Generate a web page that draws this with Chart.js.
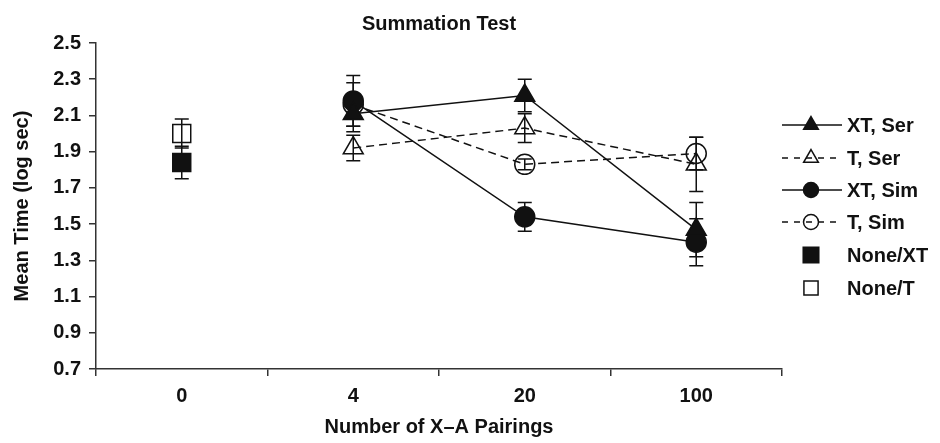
<!DOCTYPE html>
<html>
<head>
<meta charset="utf-8">
<script src="https://cdn.jsdelivr.net/npm/chart.js@4.4.1/dist/chart.umd.min.js"></script>
<style>
  body { margin: 0; background: #fff; }
</style>
</head>
<body>
<canvas id="myChart" width="940" height="443"></canvas>
<script>
var labels = ['0', '4', '20', '100']
var yTicks = [0.7, 0.9, 1.1, 1.3, 1.5, 1.7, 1.9, 2.1, 2.3, 2.5]

var xt_ser = [null, 2.11, 2.21, 1.47]
var xt_ser_err = [null, 0.10, 0.09, 0.15]
var t_ser = [null, 1.92, 2.03, 1.83]
var t_ser_err = [null, 0.07, 0.08, 0.15]
var xt_sim = [null, 2.18, 1.54, 1.40]
var xt_sim_err = [null, 0.14, 0.08, 0.13]
var t_sim = [null, 2.16, 1.83, 1.89]
var t_sim_err = [null, 0.12, 0.03, 0.09]
var none_xt = [1.84, null, null, null]
var none_xt_err = [0.09, null, null, null]
var none_t = [2.00, null, null, null]
var none_t_err = [0.08, null, null, null]

var ink = '#111'
var fontBold = { family: '"Liberation Sans", Arial, sans-serif', size: 20, weight: 'bold' }

// vertical error bars with caps
var errorBars = {
  id: 'errorBars',
  beforeDatasetsDraw: function (chart) {
    var ctx = chart.ctx
    var y = chart.scales.y
    ctx.save()
    ctx.strokeStyle = ink
    ctx.lineWidth = 1.5
    chart.data.datasets.forEach(function (ds, i) {
      var meta = chart.getDatasetMeta(i)
      ds.errors.forEach(function (e, j) {
        if (e == null || ds.data[j] == null) return
        var px = meta.data[j].x
        var top = y.getPixelForValue(ds.data[j] + e)
        var bot = y.getPixelForValue(ds.data[j] - e)
        ctx.beginPath()
        ctx.moveTo(px, top); ctx.lineTo(px, bot)
        ctx.moveTo(px - 7, top); ctx.lineTo(px + 7, top)
        ctx.moveTo(px - 7, bot); ctx.lineTo(px + 7, bot)
        ctx.stroke()
      })
    })
    ctx.restore()
  }
}

// title over the plot area and legend at the right
var extras = {
  id: 'extras',
  afterDraw: function (chart) {
    var ctx = chart.ctx
    var area = chart.chartArea
    ctx.save()
    ctx.fillStyle = ink
    ctx.font = 'bold 20px "Liberation Sans", Arial, sans-serif'
    ctx.textAlign = 'center'
    ctx.textBaseline = 'middle'
    ctx.fillText('Summation Test', (area.left + area.right) / 2, 24)

    var rowY = [125, 158, 190, 222, 255, 288]
    chart.data.datasets.forEach(function (ds, i) {
      var cy = rowY[i]
      ctx.strokeStyle = ink
      ctx.lineWidth = 1.5
      if (ds.showLine !== false) {
        ctx.setLineDash(ds.borderDash && ds.borderDash.length ? [6, 6] : [])
        ctx.beginPath()
        ctx.moveTo(782, cy); ctx.lineTo(842, cy)
        ctx.stroke()
        ctx.setLineDash([])
      }
      ctx.fillStyle = ds.pointBackgroundColor
      Chart.helpers.drawPoint(ctx, {
        pointStyle: ds.pointStyle,
        radius: ds.legendRadius,
        borderWidth: 1.5,
        rotation: 0
      }, 811, cy)
      ctx.fillStyle = ink
      ctx.textAlign = 'left'
      ctx.fillText(ds.label, 847, cy + 1)
    })
    ctx.restore()
  }
}

function series(label, data, errors, style, filled, dashed, radius, legendRadius, showLine) {
  return {
    label: label,
    data: data,
    errors: errors,
    borderColor: ink,
    borderWidth: 1.5,
    borderDash: dashed ? [8, 5] : [],
    showLine: showLine,
    pointStyle: style,
    pointRadius: radius,
    pointHoverRadius: radius,
    legendRadius: legendRadius,
    pointBorderColor: ink,
    pointBorderWidth: 1.5,
    pointBackgroundColor: filled ? ink : 'rgba(0,0,0,0)',
    backgroundColor: filled ? ink : 'rgba(0,0,0,0)',
    spanGaps: false,
    tension: 0
  }
}

var ctx = document.getElementById('myChart').getContext('2d')
var myChart = new Chart(ctx, {
  type: 'line',
  data: {
    labels: labels,
    datasets: [
      series('XT, Ser', xt_ser, xt_ser_err, 'triangle', true, false, 11.5, 8.5, true),
      series('T, Ser', t_ser, t_ser_err, 'triangle', false, true, 11.5, 8.5, true),
      series('XT, Sim', xt_sim, xt_sim_err, 'circle', true, false, 10, 7.5, true),
      series('T, Sim', t_sim, t_sim_err, 'circle', false, true, 10, 7.5, true),
      series('None/XT', none_xt, none_xt_err, 'rect', true, false, 12.7, 11, false),
      series('None/T', none_t, none_t_err, 'rect', false, false, 12.7, 10, false)
    ]
  },
  plugins: [errorBars, extras],
  options: {
    responsive: false,
    animation: false,
    events: [],
    layout: { padding: { top: 43, right: 158, left: 0, bottom: 0 } },
    plugins: {
      legend: { display: false },
      tooltip: { enabled: false }
    },
    scales: {
      x: {
        type: 'category',
        offset: true,
        afterFit: function (scale) { scale.height = 74 },
        grid: { offset: true, drawOnChartArea: false, drawTicks: true, tickLength: 7, color: '#333', lineWidth: 1.5 },
        border: { color: '#333', width: 1.5 },
        ticks: { font: fontBold, color: ink, padding: 8 },
        title: { display: true, text: 'Number of X–A Pairings', font: fontBold, color: ink, padding: { top: 4 } }
      },
      y: {
        min: 0.7,
        max: 2.5,
        afterFit: function (scale) { scale.width = 96 },
        afterBuildTicks: function (axis) { axis.ticks = yTicks.map(function (v) { return { value: v } }) },
        grid: { drawOnChartArea: false, drawTicks: true, tickLength: 7, color: '#333', lineWidth: 1.5 },
        border: { color: '#333', width: 1.5 },
        ticks: {
          font: fontBold, color: ink, padding: 8,
          callback: function (v) { return v.toFixed(1) }
        },
        title: { display: true, text: 'Mean Time (log sec)', font: fontBold, color: ink, padding: { top: 10, bottom: 0 } }
      }
    }
  }
})
</script>
</body>
</html>
